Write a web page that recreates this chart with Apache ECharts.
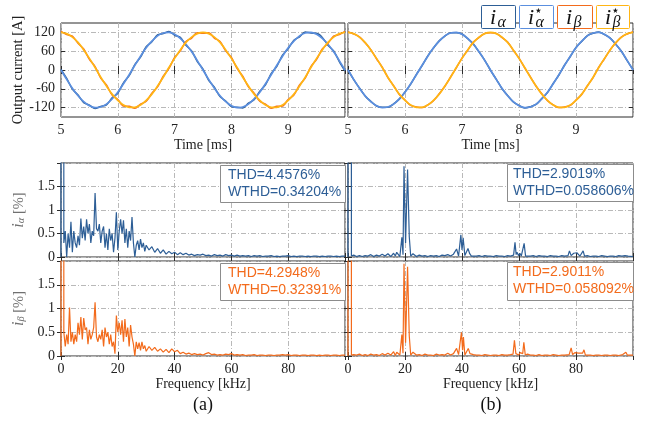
<!DOCTYPE html>
<html>
<head>
<meta charset="utf-8">
<script src="https://cdn.jsdelivr.net/npm/echarts@6/dist/echarts.min.js"></script>
<style>
  html, body { margin: 0; padding: 0; background: #fff; }
  #chart { width: 650px; height: 421px; }
</style>
</head>
<body>
<div id="chart"></div>
<script>
// ---- time domain, samples every 0.1 ms from 5 ms ----
var tStart = 5, tStep = 0.1;
var iAlphaRef = [0,-30,-58,-82,-101,-114,-120,-118,-109,-92,-71,-44,-15,15,44,71,92,109,118,120,114,101,82,58,30,0,-30,-58,-82,-101,-114,-120,-118,-109,-92,-71,-44,-15,15,44,71,92,109,118,120,114,101,82,58,30,0];
var iBetaRef = [120,116,105,88,64,37,8,-23,-51,-77,-97,-112,-119,-119,-112,-97,-77,-51,-23,8,37,64,88,105,116,120,116,105,88,64,37,8,-23,-51,-77,-97,-112,-119,-119,-112,-97,-77,-51,-23,8,37,64,88,105,116,120];
// measured, case (a)
var iAlphaA = [2,-27,-61,-80,-104,-112,-123,-116,-111,-89,-74,-41,-18,17,41,74,90,112,116,123,111,104,79,61,27,3,-33,-55,-85,-99,-117,-119,-121,-106,-95,-68,-47,-12,12,47,68,95,106,121,118,117,104,79,61,27,-3];
var iBetaA = [123,113,108,85,67,34,11,-26,-48,-80,-94,-115,-116,-122,-109,-100,-74,-54,-20,5,40,61,91,102,119,117,119,102,91,61,40,5,-20,-54,-74,-100,-109,-122,-116,-115,-94,-80,-48,-26,11,34,67,85,108,113,123];
// measured, case (b)
var iAlphaB = [1,-31,-57,-83,-100,-115,-119,-119,-108,-93,-70,-45,-14,14,45,70,93,108,119,119,115,100,83,57,31,-1,-29,-59,-81,-102,-113,-121,-117,-110,-91,-72,-43,-16,16,43,72,91,110,117,121,113,102,81,59,29,1];
var iBetaB = [121,115,106,87,65,36,9,-24,-50,-78,-96,-113,-118,-120,-111,-98,-76,-52,-22,7,38,63,89,104,117,119,117,104,89,63,38,7,-22,-52,-76,-98,-111,-120,-118,-113,-96,-78,-50,-24,9,36,65,87,106,115,121];

// ---- spectra (a): 0..30 kHz every 0.5 kHz, then 31..100 kHz every 1 kHz ----
var lowStep = 0.5, tailStart = 31, tailStep = 1;
var specAlphaA_low = [0,100,0.3,0.55,0,0.5,0.2,0.75,0.1,0.55,0.3,0.2,0.45,0.25,0.82,0.4,0.65,0.35,0.8,0.5,0.7,0.3,0.55,0.45,1.36,0.6,0.55,0.7,0.3,0.55,0.65,0.2,0.5,0.15,0.6,0.35,0.5,0.1,0.4,0.95,0.15,0.55,0.8,0.5,0.78,0.3,0.6,0.2,0.55,0.35,0.85,0.3,0,0.25,0.35,0.15,0.38,0.2,0.3,0.12,0.25];
var specAlphaA_tail = [0.15,0.22,0.1,0.18,0.08,0.15,0.06,0.12,0.07,0.1,0.05,0.09,0.05,0.08,0.04,0.06,0.03,0.05,0.04,0.06,0.03,0.04,0.02,0.05,0.03,0.04,0.02,0.05,0.03,0.04,0.02,0.04,0.02,0.03,0.02,0.03,0.01,0.03,0.02,0.03,0.01,0.02,0.02,0.03,0.01,0.02,0.01,0.02,0.02,0.03,0.01,0.02,0.01,0.02,0.02,0.01,0.02,0.01,0.02,0.02,0.01,0.02,0.01,0.02,0.02,0.01,0.02,0.01,0.02,0.02];
var specBetaA_low = [0,100,0.5,0.2,0.45,0.25,1.02,0.3,0.5,0.25,0.45,0.3,0.7,0.45,0.82,0.35,0.8,0.55,0.6,0.25,0.55,0.35,0.45,0.6,1.13,0.4,0.3,0.45,0.35,0.55,0.2,0.6,0.4,0.5,0.25,0.45,0.2,0.3,0.05,0.85,0.5,0.7,0.45,0.75,0.3,0.78,0.4,0.6,0.2,0.65,0.4,0.25,0,0.3,0.15,0.28,0.12,0.3,0.15,0.22,0.1];
var specBetaA_tail = [0.2,0.12,0.18,0.1,0.15,0.08,0.14,0.07,0.15,0.09,0.12,0.05,0.08,0.04,0.06,0.03,0.05,0.03,0.04,0.02,0.05,0.07,0.03,0.04,0.02,0.03,0.02,0.04,0.03,0.05,0.02,0.03,0.02,0.03,0.01,0.02,0.02,0.03,0.01,0.02,0.02,0.01,0.02,0.02,0.01,0.02,0.02,0.03,0.02,0.03,0.01,0.02,0.02,0.01,0.02,0.02,0.01,0.02,0.02,0.01,0.02,0.01,0.02,0.02,0.01,0.02,0.02,0.01,0.02,0.02];

// ---- spectra (b): [kHz, %] ----
var specAlphaB = [[0,0],[0.4,100],[1.2,0.02],[2,0.04],[3,0.01],[4,0.03],[5,0.01],[6,0.03],[7,0.02],[8,0.05],[9,0.01],[10,0.04],[11,0.02],[12,0.06],[13,0.02],[14,0.07],[15,0.01],[16,0.08],[16.6,0.02],[17.1,0.1],[17.6,0.11],[18.2,0.01],[18.9,0.42],[19.3,0.05],[19.65,1.93],[20.2,0.3],[20.9,1.86],[21.5,0.43],[22,0.02],[22.8,0.07],[23.4,0.07],[24,0.01],[25,0.04],[26,0.02],[27,0.03],[28,0.01],[29,0.03],[30,0.02],[31,0.03],[32,0.01],[33,0.04],[34,0.03],[35,0.05],[36,0.02],[37,0.06],[37.6,0.03],[38.1,0.17],[38.8,0.02],[39.6,0.47],[40,0.15],[40.4,0.41],[41,0.03],[41.6,0.06],[42.1,0.18],[42.7,0.07],[43.3,0.02],[44,0.04],[45,0.02],[46,0.03],[47,0.01],[48,0.03],[49,0.02],[50,0.02],[51,0.01],[52,0.03],[53,0.02],[54,0.02],[55,0.01],[56,0.03],[57,0.02],[58.1,0.04],[58.6,0.31],[59,0.05],[59.3,0.1],[59.8,0.03],[60.3,0.08],[60.8,0.02],[61.3,0.04],[61.8,0.29],[62.3,0.02],[63,0.05],[64,0.02],[65,0.03],[66,0.01],[67,0.03],[68,0.02],[69,0.02],[70,0.01],[71,0.03],[72,0.02],[73,0.02],[74,0.01],[75,0.03],[76,0.02],[77.2,0.03],[77.7,0.13],[78.3,0.03],[79.2,0.08],[79.7,0.05],[80.3,0.09],[80.8,0.08],[81.4,0.02],[82,0.05],[82.5,0.13],[83,0.02],[84,0.03],[85,0.01],[86,0.02],[87,0.02],[88,0.01],[89,0.03],[90,0.02],[91,0.01],[92,0.02],[93,0.02],[94,0.01],[95,0.03],[96.1,0.02],[96.6,0.06],[97.2,0.03],[97.7,0.05],[98.3,0.02],[99,0.02],[100,0.01]];
var specBetaB = [[0,0],[0.4,100],[1.2,0.02],[2,0.03],[3,0.02],[4,0.04],[5,0.01],[6,0.03],[7,0.01],[8,0.04],[9,0.02],[10,0.03],[11,0.01],[12,0.05],[13,0.02],[14,0.06],[15,0.02],[16,0.09],[16.6,0.01],[17.1,0.08],[17.6,0.12],[18.2,0.02],[18.9,0.45],[19.3,0.06],[19.65,1.94],[20.2,0.28],[20.9,1.88],[21.5,0.42],[22,0.02],[22.8,0.08],[23.4,0.06],[24,0.02],[25,0.03],[26,0.01],[27,0.04],[28,0.02],[29,0.02],[30,0.01],[31,0.04],[32,0.02],[33,0.03],[34,0.02],[35,0.06],[36,0.02],[37,0.05],[37.6,0.02],[38.1,0.16],[38.8,0.03],[39.8,0.5],[40.2,0.12],[40.5,0.4],[41,0.02],[41.6,0.05],[42.2,0.16],[42.8,0.05],[43.3,0.02],[44,0.03],[45,0.02],[46,0.02],[47,0.01],[48,0.03],[49,0.02],[50,0.01],[51,0.02],[52,0.02],[53,0.01],[54,0.03],[55,0.02],[56,0.02],[57,0.03],[57.9,0.04],[58.4,0.33],[58.9,0.05],[59.4,0.09],[59.9,0.02],[60.4,0.07],[60.9,0.03],[61.3,0.05],[61.7,0.29],[62.2,0.02],[63,0.04],[64,0.02],[65,0.02],[66,0.01],[67,0.03],[68,0.01],[69,0.02],[70,0.02],[71,0.01],[72,0.03],[73,0.02],[74,0.01],[75,0.02],[76,0.02],[77.6,0.03],[78.3,0.17],[78.8,0.03],[79.6,0.07],[80.3,0.1],[80.9,0.06],[81.6,0.02],[82.3,0.06],[82.8,0.13],[83.3,0.02],[84,0.02],[85,0.02],[86,0.01],[87,0.02],[88,0.02],[89,0.01],[90,0.02],[91,0.02],[92,0.01],[93,0.02],[94,0.02],[95,0.01],[96.4,0.03],[97,0.06],[97.5,0.08],[98,0.02],[99,0.02],[100,0.02]];

var timeTicks = [-120, -60, 0, 60, 120];
var thdTexts = [
  ['THD=4.4576%', 'WTHD=0.34204%'],
  ['THD=2.9019%', 'WTHD=0.058606%'],
  ['THD=4.2948%', 'WTHD=0.32391%'],
  ['THD=2.9011%', 'WTHD=0.058092%']
];

var serif = '"Liberation Serif", "DejaVu Serif", serif';
var sans = '"Liberation Sans", Arial, sans-serif';
var colAlpha = '#2d5e96', colAlphaRef = '#5b8fdf', colBeta = '#f36b1c', colBetaRef = '#ffb515';
var frameCol = '#2b2b2b', textCol = '#222';

var myChart = echarts.init(document.getElementById('chart'));

var grids = [
  {left: 61, top: 23, width: 284, height: 94},
  {left: 348, top: 23, width: 285, height: 94},
  {left: 61, top: 163, width: 284, height: 94},
  {left: 348, top: 163, width: 285, height: 94},
  {left: 61, top: 261, width: 284, height: 95},
  {left: 348, top: 261, width: 285, height: 95}
].map(function (g) {
  g.show = true; g.borderColor = frameCol; g.borderWidth = 1; g.containLabel = false;
  return g;
});

var splitStyle = {show: true, lineStyle: {color: '#b9b9b9', width: 1, type: [5, 2, 1, 2]}};
var tickStyle = {show: true, inside: true, length: 4, lineStyle: {color: frameCol}};

function xAx(g, min, max, step, labels, name) {
  return {
    type: 'value', gridIndex: g, min: min, max: max, interval: step,
    axisLine: {show: false}, axisTick: tickStyle,
    axisLabel: {show: labels, showMaxLabel: false, margin: 6, fontFamily: serif, fontSize: 14, color: textCol},
    splitLine: splitStyle,
    name: name || '', nameLocation: 'middle', nameGap: 21,
    nameTextStyle: {fontFamily: serif, fontSize: 14, color: textCol}
  };
}
function yAx(g, labels, name, isTime) {
  var ax = {
    type: 'value', gridIndex: g,
    axisLine: {show: false}, axisTick: echarts.util.clone(tickStyle),
    axisLabel: {show: labels, margin: 6, fontFamily: serif, fontSize: 14, color: textCol},
    splitLine: splitStyle,
    name: name || '', nameLocation: 'middle', nameRotate: 90, nameGap: 33,
    nameTextStyle: {fontFamily: serif, fontSize: 14.5, color: textCol}
  };
  if (isTime) {
    ax.min = -150; ax.max = 150;
    ax.axisTick.customValues = timeTicks;
    ax.axisLabel.customValues = timeTicks;
  } else {
    ax.min = 0; ax.max = 2; ax.interval = 0.5;
    ax.axisLabel.showMaxLabel = false;
  }
  return ax;
}
function subName(sym) {
  return {
    name: '{i|i}{s|' + sym + '} [%]',
    nameGap: 34,
    nameTextStyle: {
      fontFamily: serif, fontSize: 14.5, color: '#707070',
      rich: {
        i: {fontFamily: serif, fontStyle: 'italic', fontSize: 16, color: '#707070'},
        s: {fontFamily: serif, fontStyle: 'italic', fontSize: 10.5, color: '#707070', verticalAlign: 'bottom'}
      }
    }
  };
}

var xAxes = [
  xAx(0, 5, 10, 1, true, 'Time [ms]'),
  xAx(1, 5, 10, 1, true, 'Time [ms]'),
  xAx(2, 0, 100, 20, false),
  xAx(3, 0, 100, 20, false),
  xAx(4, 0, 100, 20, true, 'Frequency [kHz]'),
  xAx(5, 0, 100, 20, true, 'Frequency [kHz]')
];
var yAxes = [
  yAx(0, true, 'Output current [A]', true),
  yAx(1, false, '', true),
  Object.assign(yAx(2, true), subName('α')),
  yAx(3, false),
  Object.assign(yAx(4, true), subName('β')),
  yAx(5, false)
];
// mirrored ticks on top / right (box on)
for (var g = 0; g < 6; g++) {
  var mx = echarts.util.clone(xAxes[g]);
  mx.position = 'top'; mx.axisLabel = {show: false}; mx.splitLine = {show: false}; mx.name = '';
  xAxes.push(mx);
  var my = echarts.util.clone(yAxes[g]);
  my.position = 'right'; my.axisLabel = {show: false}; my.splitLine = {show: false}; my.name = '';
  yAxes.push(my);
}

function timeLine(g, arr, color, w) {
  return {
    type: 'line', xAxisIndex: g, yAxisIndex: g, symbol: 'none', smooth: 0.3, silent: true,
    data: arr.map(function (v, i) { return [tStart + i * tStep, v]; }),
    lineStyle: {color: color, width: w}
  };
}
function bandPairs(low, tail) {
  var out = low.map(function (v, i) { return [i * lowStep, v]; });
  tail.forEach(function (v, j) { out.push([tailStart + j * tailStep, v]); });
  return out;
}
function specLine(g, data, color) {
  return {
    type: 'line', xAxisIndex: g, yAxisIndex: g, symbol: 'none', silent: true,
    data: data, lineStyle: {color: color, width: 1.2}
  };
}

var series = [
  timeLine(0, iAlphaA, colAlpha, 1.5), timeLine(0, iAlphaRef, colAlphaRef, 1.7),
  timeLine(0, iBetaA, colBeta, 1.5), timeLine(0, iBetaRef, colBetaRef, 1.7),
  timeLine(1, iAlphaB, colAlpha, 1.5), timeLine(1, iAlphaRef, colAlphaRef, 1.7),
  timeLine(1, iBetaB, colBeta, 1.5), timeLine(1, iBetaRef, colBetaRef, 1.7),
  specLine(2, bandPairs(specAlphaA_low, specAlphaA_tail), colAlpha),
  specLine(3, specAlphaB, colAlpha),
  specLine(4, bandPairs(specBetaA_low, specBetaA_tail), colBeta),
  specLine(5, specBetaB, colBeta)
];

// legend boxes
var legendItems = [
  {x: 481, w: 34, border: colAlpha, sub: 'α', star: false},
  {x: 519, w: 34, border: colAlphaRef, sub: 'α', star: true},
  {x: 557, w: 35, border: colBeta, sub: 'β', star: false},
  {x: 596, w: 33, border: colBetaRef, sub: 'β', star: true}
];
var graphics = [];
legendItems.forEach(function (it) {
  graphics.push({type: 'rect', z: 100, shape: {x: it.x + 0.5, y: 5.5, width: it.w, height: 23, r: 1},
    style: {fill: '#fff', stroke: it.border, lineWidth: 1}});
  graphics.push({type: 'text', z: 101, style: {text: 'i', x: it.x + 9, y: 18, verticalAlign: 'middle',
    font: 'italic 22px ' + serif, fill: '#111'}});
  graphics.push({type: 'text', z: 101, style: {text: it.sub, x: it.x + 16.5, y: 22.5, verticalAlign: 'middle',
    font: 'italic 16px ' + serif, fill: '#111'}});
  if (it.star) {
    graphics.push({type: 'text', z: 101, style: {text: '⋆', x: it.x + 19.5, y: 11, align: 'center', verticalAlign: 'middle',
      font: '14px "DejaVu Sans"', fill: '#111'}});
  }
});

// THD annotation boxes
var boxes = [
  {x: 220, y: 165, w: 125, h: 37, tx: 228, col: colAlpha},
  {x: 507, y: 164, w: 126, h: 37, tx: 513, col: colAlpha},
  {x: 220, y: 263, w: 125, h: 37, tx: 228, col: colBeta},
  {x: 507, y: 262, w: 126, h: 38, tx: 513, col: colBeta}
];
boxes.forEach(function (b, k) {
  graphics.push({type: 'rect', z: 100, shape: {x: b.x + 0.5, y: b.y + 0.5, width: b.w, height: b.h},
    style: {fill: '#fff', stroke: '#8c8c8c', lineWidth: 1}});
  graphics.push({type: 'text', z: 101, style: {text: thdTexts[k][0], x: b.tx, y: b.y + 10, verticalAlign: 'middle',
    font: '14px ' + sans, fill: b.col}});
  graphics.push({type: 'text', z: 101, style: {text: thdTexts[k][1], x: b.tx, y: b.y + 27.5, verticalAlign: 'middle',
    font: '14px ' + sans, fill: b.col}});
});

// sub-figure captions
graphics.push({type: 'text', z: 101, style: {text: '(a)', x: 203, y: 405, align: 'center', verticalAlign: 'middle',
  font: '18px ' + serif, fill: '#111'}});
graphics.push({type: 'text', z: 101, style: {text: '(b)', x: 491, y: 405, align: 'center', verticalAlign: 'middle',
  font: '18px ' + serif, fill: '#111'}});

option = {
  animation: false,
  backgroundColor: '#fff',
  grid: grids,
  xAxis: xAxes,
  yAxis: yAxes,
  series: series,
  graphic: graphics
};
myChart.setOption(option);
window.addEventListener('resize', function () {
  myChart.resize();
});
</script>
</body>
</html>
